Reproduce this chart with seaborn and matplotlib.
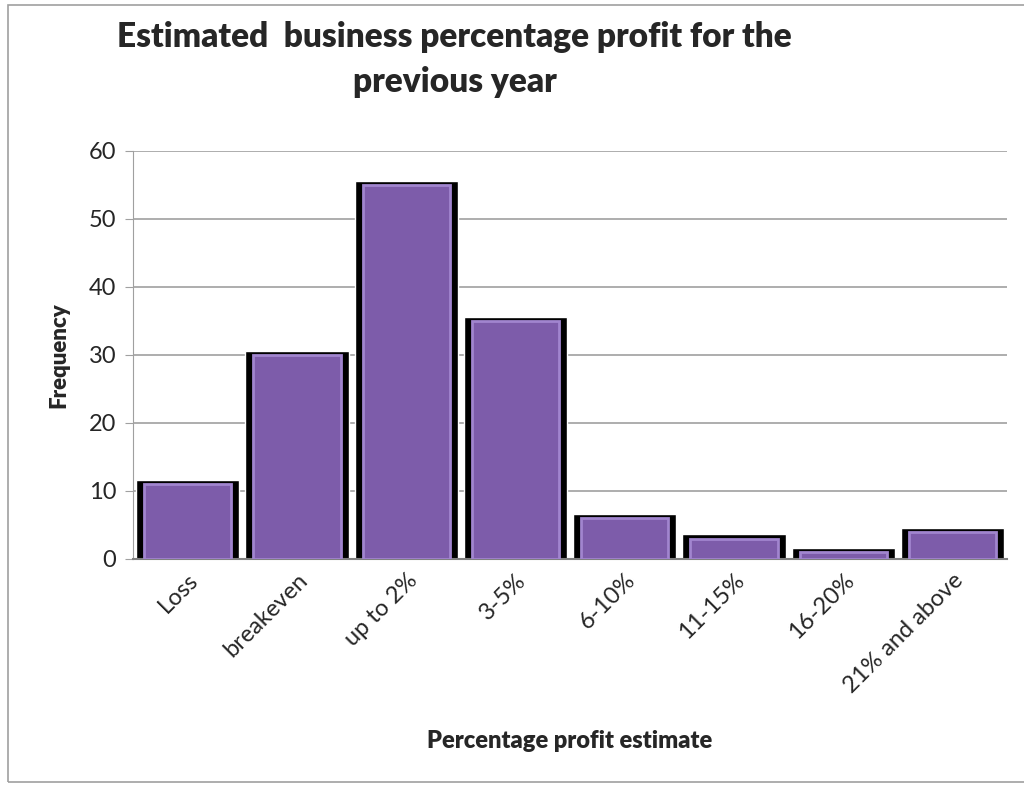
import numpy as np
import pandas as pd
import matplotlib.pyplot as plt
import seaborn as sns
from matplotlib.patches import Rectangle

categories = ['Loss', 'breakeven', 'up to 2%', '3-5%', '6-10%', '11-15%', '16-20%', '21% and above']
frequency = [11, 30, 55, 35, 6, 3, 1, 4]

df = pd.DataFrame({'profit': categories, 'freq': frequency})
df['shadow'] = df['freq'] + 0.6

sns.set_style('white')
plt.rcParams['font.family'] = ['Lato', 'DejaVu Sans']

fig = plt.figure(figsize=(10.24, 7.85), dpi=100)
ax = fig.add_axes([0.130, 0.288, 0.8535, 0.52])

# black frame behind each bar, then the purple face
sns.barplot(data=df, x='profit', y='shadow', color='black', width=0.945,
            saturation=1, ax=ax, zorder=2)
sns.barplot(data=df, x='profit', y='freq', color='#7d5caa', width=0.8,
            saturation=1, ax=ax, zorder=3, edgecolor='#a185cf', linewidth=2)

ax.set_ylim(0, 60)
ax.set_yticks(range(0, 61, 10))
ax.set_xlim(-0.5, len(categories) - 0.5)
ax.yaxis.grid(True, color='#a0a0a0', linewidth=1.2, zorder=0)
ax.set_axisbelow(True)
for s in ['top', 'right']:
    ax.spines[s].set_visible(False)
ax.spines['left'].set_color('#a0a0a0')
ax.spines['bottom'].set_color('#808080')
ax.spines['bottom'].set_linewidth(1.5)
ax.tick_params(axis='y', left=True, length=6, color='#a0a0a0', labelsize=17, pad=6)
ax.tick_params(axis='x', bottom=False, labelsize=17, pad=4)
ax.set_xticks(range(len(categories)))
ax.set_xticklabels(categories, rotation=45, ha='right', rotation_mode='anchor')

ax.set_ylabel('Frequency', fontsize=16, fontweight='heavy', labelpad=14)
ax.set_xlabel('Percentage profit estimate', fontsize=17, fontweight='heavy', labelpad=24)

fig.text(0.444, 0.953, 'Estimated  business percentage profit for the',
         ha='center', va='center', fontsize=24, fontweight='heavy')
fig.text(0.444, 0.896, 'previous year', ha='center', va='center',
         fontsize=24, fontweight='heavy')

fig.patches.append(Rectangle((0.008, 0.004), 1.2, 0.99, transform=fig.transFigure,
                             fill=False, edgecolor='#a0a0a0', linewidth=1.2))

fig.savefig('out.png', dpi=100)
